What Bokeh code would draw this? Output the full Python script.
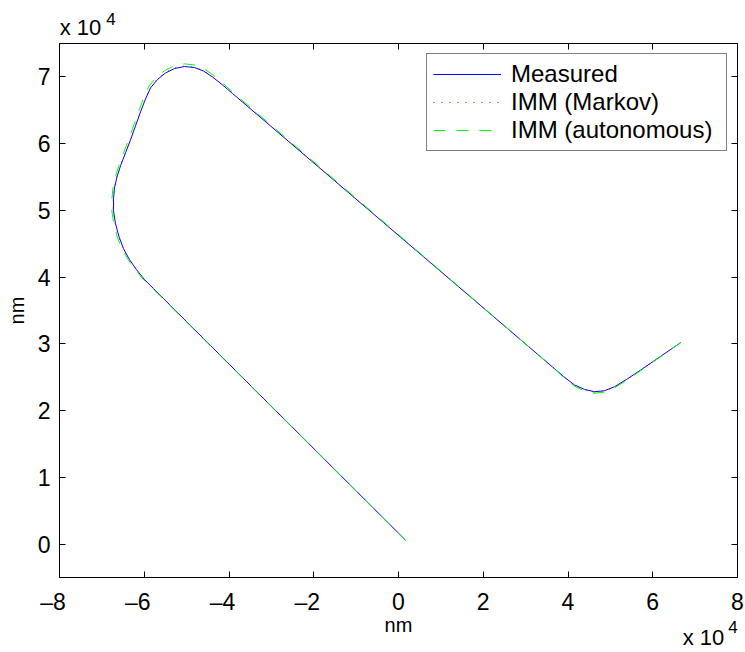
from bokeh.plotting import figure
from bokeh.models import (Range1d, FixedTicker, CustomJSTickFormatter, LinearAxis,
                          Legend, LegendItem)
from bokeh.embed import file_html
from bokeh.resources import INLINE

# ---------------- data (nm) ----------------
meas_x = [1650, -55460, -57820, -59940, -61830, -63480, -64900, -65960, -66780, -67260,
          -67260, -67020, -66430, -65600, -64420, -63240, -62060, -60880, -59700, -58530,
          -56870, -54990, -52870, -50500, -48140, -46020, -43890, -41530, -39170, 33510,
          36340, 38940, 41530, 43890, 46250, 48610, 50970, 53810, 57110, 66600]
meas_y = [600, 36780, 38280, 39630, 41120, 42620, 44260, 46060, 48000, 49940,
          51740, 53380, 55030, 56670, 58620, 60560, 62660, 64750, 66690, 68340,
          69610, 70580, 71250, 71550, 71400, 70880, 69980, 68790, 67510, 28070,
          26540, 25120, 23850, 23180, 22830, 22980, 23580, 24670, 26060, 30200]

markov_x = [1600, -55420, -57850, -60000, -61900, -63560, -64980, -66050, -66870, -67340,
            -67330, -67080, -66480, -65640, -64460, -63280, -62100, -60920, -59760, -58600,
            -56930, -55040, -52900, -50510, -48120, -45980, -43840, -41490, -39140, 33540,
            36380, 38960, 41540, 43880, 46230, 48600, 50980, 53840, 57130, 66600]
markov_y = [560, 36800, 38300, 39640, 41130, 42630, 44270, 46060, 48000, 49940,
            51740, 53390, 55040, 56690, 58640, 60590, 62690, 64780, 66730, 68390,
            69680, 70660, 71330, 71630, 71470, 70940, 70030, 68830, 67540, 28050,
            26510, 25080, 23790, 23110, 22760, 22920, 23530, 24640, 26040, 30200]

auto_x = [1800, -55500, -57950, -60150, -62100, -63800, -65300, -66400, -67200, -67650,
          -67620, -67380, -66780, -65960, -64800, -63620, -62440, -61260, -60080, -58880,
          -57150, -55160, -52960, -50500, -48060, -45880, -43700, -41360, -39020, 33600,
          36450, 39020, 41570, 43900, 46250, 48630, 51020, 53880, 57160, 66650]
auto_y = [450, 36750, 38250, 39600, 41100, 42620, 44280, 46080, 48010, 49940,
          51760, 53420, 55090, 56760, 58730, 60700, 62820, 64950, 66930, 68630,
          69960, 70960, 71650, 71950, 71780, 71220, 70260, 68990, 67650, 28020,
          26440, 24970, 23650, 22960, 22610, 22780, 23420, 24560, 25990, 30220]

series_names = ["Measured", "IMM (Markov)", "IMM (autonomous)"]
x_ticks = [-80000, -60000, -40000, -20000, 0, 20000, 40000, 60000, 80000]
y_ticks = [0, 10000, 20000, 30000, 40000, 50000, 60000, 70000]
axis_label_x = "nm"
axis_label_y = "nm"
exp_base = "x 10"
exp_power = "4"

FONT = "Liberation Sans"

p = figure(width=745, height=652, output_backend="svg", toolbar_location=None, tools="",
           x_range=Range1d(-80000, 80000), y_range=Range1d(-5000, 75000),
           min_border_left=59, min_border_right=8, min_border_top=43, min_border_bottom=74)
p.background_fill_color = "white"
p.border_fill_color = "white"
p.outline_line_color = "black"
p.outline_line_width = 1
p.grid.visible = False

fmt_code = ("var v = Math.round(tick/10000);"
            "return v < 0 ? '\\u2013' + (-v) + '\\u00a0\\u00a0' : String(v);")


def style_axis(ax, ticks, show_labels):
    ax.ticker = FixedTicker(ticks=ticks)
    ax.major_tick_in = 6
    ax.major_tick_out = 0
    ax.minor_tick_in = 0
    ax.minor_tick_out = 0
    ax.axis_line_color = "black"
    ax.major_tick_line_color = "black"
    ax.major_tick_line_width = 1
    if show_labels:
        ax.formatter = CustomJSTickFormatter(code=fmt_code)
        ax.major_label_text_font = FONT
        ax.major_label_text_font_size = "23px"
        ax.major_label_text_color = "black"
        ax.axis_label_text_font = FONT
        ax.axis_label_text_font_size = "20px"
        ax.axis_label_text_font_style = "normal"
        ax.axis_label_text_color = "black"
    else:
        ax.formatter = CustomJSTickFormatter(code="return '';")
        ax.major_label_text_font_size = "0px"
        ax.major_label_standoff = 0


def exp_axis(side, tick, text, size, standoff):
    ax = LinearAxis(ticker=FixedTicker(ticks=[tick]),
                    formatter=CustomJSTickFormatter(args=dict(t=text), code="return t;"))
    ax.axis_line_color = None
    ax.major_tick_line_color = None
    ax.minor_tick_line_color = None
    ax.major_tick_in = 0
    ax.major_tick_out = 0
    ax.minor_tick_in = 0
    ax.minor_tick_out = 0
    ax.major_label_text_font = FONT
    ax.major_label_text_font_size = size
    ax.major_label_text_color = "black"
    ax.major_label_standoff = standoff
    p.add_layout(ax, side)


xb = p.below[0]
yl = p.left[0]
style_axis(xb, x_ticks, True)
style_axis(yl, y_ticks, True)
xb.major_label_standoff = 11
xb.axis_label = axis_label_x
xb.axis_label_standoff = -4
yl.major_label_standoff = 9
yl.axis_label = axis_label_y
yl.axis_label_standoff = 7

xt = LinearAxis()
style_axis(xt, x_ticks, False)
p.add_layout(xt, "above")
yr = LinearAxis()
style_axis(yr, y_ticks, False)
p.add_layout(yr, "right")

# axis multiplier texts ("x 10^4") drawn as extra unticked axes
exp_axis("above", -75044, exp_base, "22px", 4)
exp_axis("above", -67850, exp_power, "17px", -13)
exp_axis("below", 78938, exp_power, "17px", -18)
exp_axis("below", 71976, exp_base, "22px", -14)

r1 = p.line(meas_x, meas_y, line_color="#0000ff", line_width=1)
r2 = p.line(markov_x, markov_y, line_color="#ff0000", line_width=1, line_dash="1 7")
r3 = p.line(auto_x, auto_y, line_color="#00ff00", line_width=1, line_dash="12 11")

legend = Legend(items=[LegendItem(label=series_names[0], renderers=[r1]),
                       LegendItem(label=series_names[1], renderers=[r2]),
                       LegendItem(label=series_names[2], renderers=[r3])],
                location="top_right", margin=10, padding=6, spacing=0,
                glyph_width=68, glyph_height=28, label_height=28, label_standoff=10,
                label_width=209, label_text_font=FONT, label_text_font_size="24px",
                label_text_color="black", border_line_color="black", border_line_width=1,
                background_fill_color="white", background_fill_alpha=1)
p.add_layout(legend)

open("out.html", "w").write(file_html(p, INLINE))
